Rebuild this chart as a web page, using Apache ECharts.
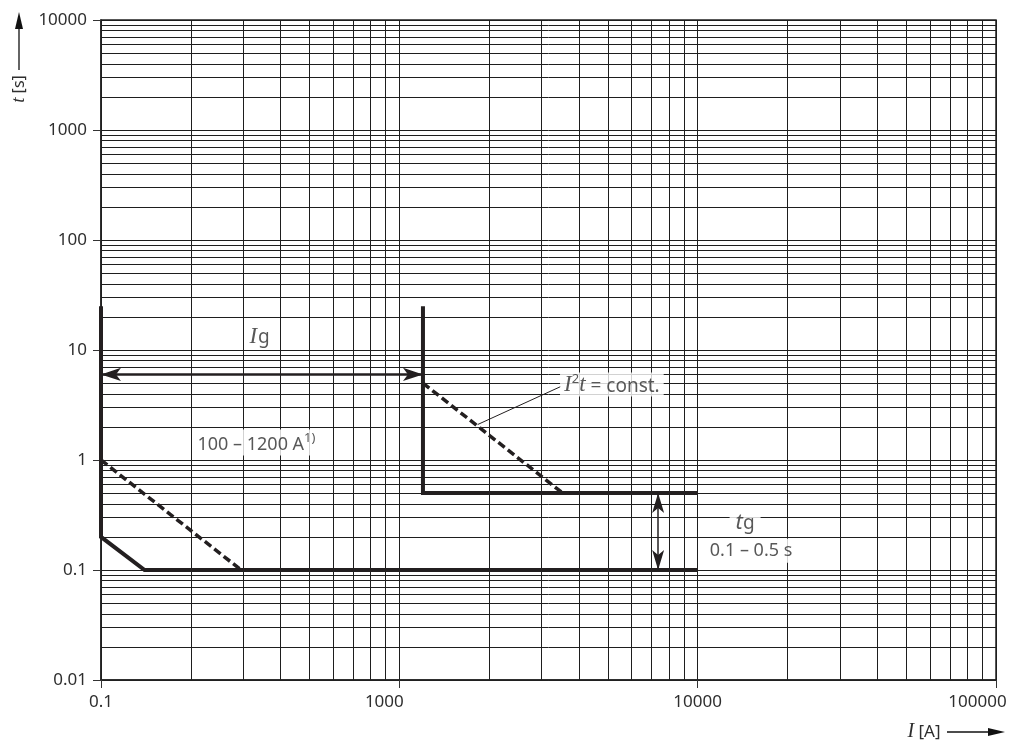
<!DOCTYPE html>
<html><head><meta charset="utf-8">
<script src="https://cdn.jsdelivr.net/npm/echarts@6/dist/echarts.min.js"></script>
<style>html,body{margin:0;padding:0;background:#fff}#c{width:1013px;height:745px}</style>
</head><body><div id="c"></div>
<script>
// ---- axis ticks ----
const xTickValues = [100, 1000, 10000, 100000];
const xTickLabels = ['0.1', '1000', '10000', '100000'];
const yTickValues = [0.01, 0.1, 1, 10, 100, 1000, 10000];
const yTickLabels = ['0.01', '0.1', '1', '10', '100', '1000', '10000'];

// ---- curves [I (A), t (s)] ----
const curveLow = [[100, 25], [100, 0.2], [140, 0.1], [10000, 0.1]];
const dashLow = [[100, 1], [295, 0.1]];
const curveHigh = [[1200, 25], [1200, 0.5], [10000, 0.5]];
const dashHigh = [[1200, 5], [3530, 0.5]];
const arrowIg = [[100, 6], [1200, 6]];
const arrowTg = [[7370, 0.5], [7370, 0.1]];
const leaderLine = [[1830, 2.1], [3480, 4.66]];

// ---- annotation anchors [I, t] ----
const posIg = [340, 13.3];
const posRange = [332, 1.44];
const posI2t = [5157, 4.85];
const posTg = [14420, 0.27];
const posTgRange = [15100, 0.15];

const FONT = '"Noto Sans", "Open Sans", sans-serif';
const TXT = '#2e2e2e';
const LINE = '#231f20';

function fmt(values, labels, styleKeys) {
  return function (v) {
    for (let i = 0; i < values.length; i++) {
      if (Math.abs(Math.log10(v) - Math.log10(values[i])) < 1e-6) {
        const k = styleKeys ? styleKeys[i] : null;
        return k ? '{' + k + '|' + labels[i] + '}' : labels[i];
      }
    }
    return '';
  };
}

function lineSeries(data, opts) {
  return Object.assign({
    type: 'line', data: data, symbol: 'none', silent: true, animation: false,
    lineStyle: { color: LINE, width: 4, cap: 'butt', join: 'miter' }
  }, opts || {});
}

function labelSeries(pos, formatter, rich, extra) {
  return {
    type: 'scatter', data: [pos], symbolSize: 0, silent: true, animation: false, z: 4,
    label: Object.assign({
      show: true, position: 'inside', formatter: formatter, rich: rich,
      color: TXT, fontFamily: FONT, fontSize: 18
    }, extra || {})
  };
}

const chart = echarts.init(document.getElementById('c'), null, { renderer: 'canvas' });
const splitStyle = { color: '#1e1e1e', width: 1 };
chart.setOption({
  animation: false,
  backgroundColor: '#fff',
  grid: { left: 101, right: 17, top: 20, bottom: 65, show: true, borderColor: '#222', borderWidth: 1.5,
          containLabel: false, outerBoundsMode: 'none' },
  xAxis: {
    type: 'log', logBase: 10, min: 100, max: 100000,
    axisLine: { show: true, onZero: false, lineStyle: { color: '#222', width: 1.5 } },
    axisTick: { show: true, length: 8, lineStyle: { color: '#333' } },
    axisLabel: {
      formatter: fmt(xTickValues, xTickLabels, [null, 'l', null, 'r']),
      color: TXT, fontFamily: FONT, fontSize: 17, margin: 14,
      rich: {
        l: { color: TXT, fontFamily: FONT, fontSize: 17, padding: [0, 30, 0, 0] },
        r: { color: TXT, fontFamily: FONT, fontSize: 17, padding: [0, 37, 0, 0] }
      }
    },
    splitLine: { show: true, lineStyle: splitStyle },
    minorTick: { show: false, splitNumber: 9 },
    minorSplitLine: { show: true, lineStyle: splitStyle }
  },
  yAxis: {
    type: 'log', logBase: 10, min: 0.01, max: 10000,
    axisLine: { show: true, onZero: false, lineStyle: { color: '#222', width: 1.5 } },
    axisTick: { show: true, length: 8, lineStyle: { color: '#333' } },
    axisLabel: { formatter: fmt(yTickValues, yTickLabels), color: TXT, fontFamily: FONT, fontSize: 17, margin: 14 },
    splitLine: { show: true, lineStyle: splitStyle },
    minorTick: { show: false, splitNumber: 9 },
    minorSplitLine: { show: true, lineStyle: splitStyle }
  },
  series: [
    lineSeries(curveLow),
    lineSeries(dashLow, { lineStyle: { color: LINE, width: 3.5, type: [8, 4], cap: 'butt' } }),
    lineSeries(curveHigh),
    lineSeries(dashHigh, { lineStyle: { color: LINE, width: 3.5, type: [8, 4], cap: 'butt' } }),
    lineSeries(leaderLine, { lineStyle: { color: LINE, width: 1 } }),
    {
      type: 'lines', coordinateSystem: 'cartesian2d', silent: true, animation: false, z: 5,
      symbol: ['arrow', 'arrow'], symbolSize: [[10, 20], [10, 20]], symbolOffset: [0, 10],
      lineStyle: { color: LINE, width: 2.5, opacity: 1, curveness: 0 },
      data: [{ coords: arrowIg }]
    },
    {
      type: 'lines', coordinateSystem: 'cartesian2d', silent: true, animation: false, z: 5,
      symbol: ['arrow', 'arrow'], symbolSize: [[9, 20], [9, 20]], symbolOffset: [0, 10],
      lineStyle: { color: LINE, width: 1.5, opacity: 1, curveness: 0 },
      data: [{ coords: arrowTg }]
    },
    labelSeries(posIg, '{i|I}{g|g}', {
      i: { fontFamily: 'Liberation Serif', fontStyle: 'italic', fontSize: 23, color: TXT, lineHeight: 22, verticalAlign: 'top' },
      g: { fontFamily: FONT, fontSize: 19, color: TXT, lineHeight: 18, padding: [10, 0, 0, 1], verticalAlign: 'bottom' }
    }),
    labelSeries(posRange, '{n|100 – 1200 A}{s|1)}', {
      n: { fontFamily: FONT, fontSize: 18, color: TXT, lineHeight: 22, verticalAlign: 'bottom' },
      s: { fontFamily: FONT, fontSize: 13, color: TXT, lineHeight: 12, verticalAlign: 'top' }
    }, { backgroundColor: '#fff', padding: [2, 4, 2, 4] }),
    labelSeries(posI2t, '{i|I}{s|2}{t|t}{n| = const.}', {
      i: { fontFamily: 'Liberation Serif', fontStyle: 'italic', fontSize: 23, color: TXT, lineHeight: 24, verticalAlign: 'bottom' },
      s: { fontFamily: FONT, fontSize: 13, color: TXT, lineHeight: 13, verticalAlign: 'top' },
      t: { fontFamily: 'Liberation Serif', fontStyle: 'italic', fontSize: 23, color: TXT, lineHeight: 24, verticalAlign: 'bottom' },
      n: { fontFamily: FONT, fontSize: 19, color: TXT, lineHeight: 24, verticalAlign: 'bottom' }
    }, { backgroundColor: '#fff', padding: [0, 4, 0, 4] }),
    labelSeries(posTg, '{t|t}{g|g}', {
      t: { fontFamily: FONT, fontStyle: 'italic', fontSize: 22, color: TXT, lineHeight: 21, verticalAlign: 'top' },
      g: { fontFamily: FONT, fontSize: 19, color: TXT, lineHeight: 18, padding: [9, 0, 0, 0], verticalAlign: 'bottom' }
    }, { backgroundColor: '#fff', padding: [0, 6, 0, 6] }),
    labelSeries(posTgRange, '0.1 – 0.5 s', null, { backgroundColor: '#fff', padding: [3, 4, 3, 4], fontSize: 18 })
  ],
  graphic: [
    { type: 'text', rotation: Math.PI / 2, x: 19, y: 89, silent: true,
      style: { text: '{i|t} [s]', rich: { i: { fontFamily: 'Liberation Serif', fontStyle: 'italic', fontSize: 19, fill: TXT } },
        font: '16px "Noto Sans"', fill: TXT, align: 'center', verticalAlign: 'middle' } },
    { type: 'line', silent: true, shape: { x1: 19, y1: 70, x2: 19, y2: 26 }, style: { stroke: '#111', lineWidth: 1.3 } },
    { type: 'polygon', silent: true, shape: { points: [[19, 12], [23, 29], [15, 29]] }, style: { fill: '#111' } },
    { type: 'text', x: 924, y: 732, silent: true,
      style: { text: '{i|I} [A]', rich: { i: { fontFamily: 'Liberation Serif', fontStyle: 'italic', fontSize: 20, fill: TXT } },
        font: '17px "Noto Sans"', fill: TXT, align: 'center', verticalAlign: 'middle' } },
    { type: 'line', silent: true, shape: { x1: 947, y1: 732, x2: 990, y2: 732 }, style: { stroke: '#111', lineWidth: 1.3 } },
    { type: 'polygon', silent: true, shape: { points: [[1005, 732], [988, 728], [988, 736]] }, style: { fill: '#111' } }
  ]
});
</script></body></html>
